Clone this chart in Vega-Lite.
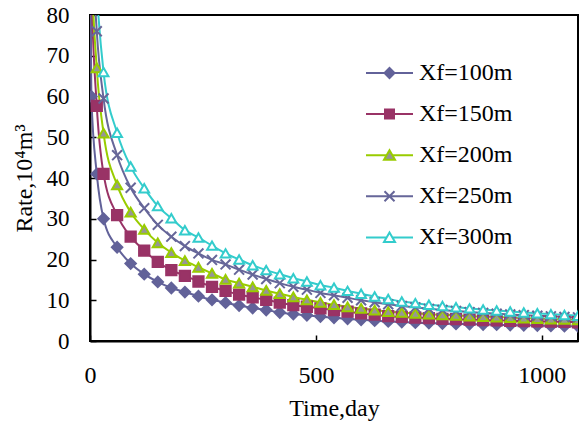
{
  "$schema": "https://vega.github.io/schema/vega-lite/v6.json",
  "width": 488,
  "height": 326,
  "autosize": {"type": "none"},
  "padding": {"left": 90, "top": 15, "right": 1, "bottom": 83},
  "background": "white",
  "config": {
    "font": "Liberation Serif",
    "view": {"stroke": "black", "strokeWidth": 2},
    "axis": {
      "grid": false,
      "domainColor": "black",
      "domainWidth": 2,
      "tickColor": "black",
      "tickWidth": 1.5,
      "labelColor": "black",
      "titleColor": "black",
      "labelFont": "Liberation Serif",
      "titleFont": "Liberation Serif",
      "labelFontSize": 23,
      "titleFontSize": 24,
      "titleFontWeight": "normal"
    }
  },
  "data": {
    "values": [
      {"s":"Xf=100m","t":1,"q":85},{"s":"Xf=100m","t":3,"q":60},{"s":"Xf=100m","t":15,"q":41},{"s":"Xf=100m","t":30,"q":30},{"s":"Xf=100m","t":60,"q":23},{"s":"Xf=100m","t":90,"q":19},{"s":"Xf=100m","t":120,"q":16.4},{"s":"Xf=100m","t":150,"q":14.5},{"s":"Xf=100m","t":180,"q":13},{"s":"Xf=100m","t":210,"q":12},{"s":"Xf=100m","t":240,"q":11},{"s":"Xf=100m","t":270,"q":10.1},{"s":"Xf=100m","t":300,"q":9.4},{"s":"Xf=100m","t":330,"q":8.7},{"s":"Xf=100m","t":360,"q":8.1},{"s":"Xf=100m","t":390,"q":7.6},{"s":"Xf=100m","t":420,"q":7.0},{"s":"Xf=100m","t":450,"q":6.6},{"s":"Xf=100m","t":480,"q":6.3},{"s":"Xf=100m","t":510,"q":6.0},{"s":"Xf=100m","t":540,"q":5.7},{"s":"Xf=100m","t":570,"q":5.45},{"s":"Xf=100m","t":600,"q":5.2},{"s":"Xf=100m","t":630,"q":5.0},{"s":"Xf=100m","t":660,"q":4.8},{"s":"Xf=100m","t":690,"q":4.65},{"s":"Xf=100m","t":720,"q":4.5},{"s":"Xf=100m","t":750,"q":4.4},{"s":"Xf=100m","t":780,"q":4.3},{"s":"Xf=100m","t":810,"q":4.2},{"s":"Xf=100m","t":840,"q":4.15},{"s":"Xf=100m","t":870,"q":4.05},{"s":"Xf=100m","t":900,"q":4.0},{"s":"Xf=100m","t":930,"q":3.9},{"s":"Xf=100m","t":960,"q":3.85},{"s":"Xf=100m","t":990,"q":3.8},{"s":"Xf=100m","t":1020,"q":3.7},{"s":"Xf=100m","t":1050,"q":3.65},{"s":"Xf=100m","t":1080,"q":3.6},
      {"s":"Xf=150m","t":1,"q":115},{"s":"Xf=150m","t":3,"q":88},{"s":"Xf=150m","t":15,"q":57.7},{"s":"Xf=150m","t":30,"q":41},{"s":"Xf=150m","t":60,"q":30.9},{"s":"Xf=150m","t":90,"q":25.6},{"s":"Xf=150m","t":120,"q":22.2},{"s":"Xf=150m","t":150,"q":19.4},{"s":"Xf=150m","t":180,"q":17.4},{"s":"Xf=150m","t":210,"q":16},{"s":"Xf=150m","t":240,"q":14.6},{"s":"Xf=150m","t":270,"q":13.3},{"s":"Xf=150m","t":300,"q":12.3},{"s":"Xf=150m","t":330,"q":11.4},{"s":"Xf=150m","t":360,"q":10.7},{"s":"Xf=150m","t":390,"q":10.1},{"s":"Xf=150m","t":420,"q":9.4},{"s":"Xf=150m","t":450,"q":8.8},{"s":"Xf=150m","t":480,"q":8.4},{"s":"Xf=150m","t":510,"q":8.0},{"s":"Xf=150m","t":540,"q":7.6},{"s":"Xf=150m","t":570,"q":7.2},{"s":"Xf=150m","t":600,"q":6.8},{"s":"Xf=150m","t":630,"q":6.45},{"s":"Xf=150m","t":660,"q":6.1},{"s":"Xf=150m","t":690,"q":5.9},{"s":"Xf=150m","t":720,"q":5.75},{"s":"Xf=150m","t":750,"q":5.6},{"s":"Xf=150m","t":780,"q":5.45},{"s":"Xf=150m","t":810,"q":5.35},{"s":"Xf=150m","t":840,"q":5.25},{"s":"Xf=150m","t":870,"q":5.15},{"s":"Xf=150m","t":900,"q":5.05},{"s":"Xf=150m","t":930,"q":4.95},{"s":"Xf=150m","t":960,"q":4.9},{"s":"Xf=150m","t":990,"q":4.8},{"s":"Xf=150m","t":1020,"q":4.75},{"s":"Xf=150m","t":1050,"q":4.7},{"s":"Xf=150m","t":1080,"q":4.6},
      {"s":"Xf=200m","t":1,"q":130},{"s":"Xf=200m","t":3,"q":95},{"s":"Xf=200m","t":15,"q":67},{"s":"Xf=200m","t":30,"q":51},{"s":"Xf=200m","t":60,"q":38.3},{"s":"Xf=200m","t":90,"q":31.6},{"s":"Xf=200m","t":120,"q":27.4},{"s":"Xf=200m","t":150,"q":24.1},{"s":"Xf=200m","t":180,"q":21.7},{"s":"Xf=200m","t":210,"q":19.7},{"s":"Xf=200m","t":240,"q":18.1},{"s":"Xf=200m","t":270,"q":16.6},{"s":"Xf=200m","t":300,"q":15.1},{"s":"Xf=200m","t":330,"q":14.2},{"s":"Xf=200m","t":360,"q":13.3},{"s":"Xf=200m","t":390,"q":12.4},{"s":"Xf=200m","t":420,"q":11.6},{"s":"Xf=200m","t":450,"q":10.8},{"s":"Xf=200m","t":480,"q":10.1},{"s":"Xf=200m","t":510,"q":9.5},{"s":"Xf=200m","t":540,"q":8.9},{"s":"Xf=200m","t":570,"q":8.4},{"s":"Xf=200m","t":600,"q":8.0},{"s":"Xf=200m","t":630,"q":7.6},{"s":"Xf=200m","t":660,"q":7.2},{"s":"Xf=200m","t":690,"q":7.0},{"s":"Xf=200m","t":720,"q":6.8},{"s":"Xf=200m","t":750,"q":6.6},{"s":"Xf=200m","t":780,"q":6.4},{"s":"Xf=200m","t":810,"q":6.3},{"s":"Xf=200m","t":840,"q":6.1},{"s":"Xf=200m","t":870,"q":6.0},{"s":"Xf=200m","t":900,"q":5.85},{"s":"Xf=200m","t":930,"q":5.75},{"s":"Xf=200m","t":960,"q":5.6},{"s":"Xf=200m","t":990,"q":5.5},{"s":"Xf=200m","t":1020,"q":5.4},{"s":"Xf=200m","t":1050,"q":5.3},{"s":"Xf=200m","t":1080,"q":5.2},
      {"s":"Xf=250m","t":1,"q":145},{"s":"Xf=250m","t":3,"q":105},{"s":"Xf=250m","t":15,"q":76},{"s":"Xf=250m","t":30,"q":59.5},{"s":"Xf=250m","t":60,"q":45.6},{"s":"Xf=250m","t":90,"q":37.6},{"s":"Xf=250m","t":120,"q":32.6},{"s":"Xf=250m","t":150,"q":28.5},{"s":"Xf=250m","t":180,"q":25.6},{"s":"Xf=250m","t":210,"q":23.3},{"s":"Xf=250m","t":240,"q":21.5},{"s":"Xf=250m","t":270,"q":19.9},{"s":"Xf=250m","t":300,"q":18.8},{"s":"Xf=250m","t":330,"q":17.5},{"s":"Xf=250m","t":360,"q":16.3},{"s":"Xf=250m","t":390,"q":15.2},{"s":"Xf=250m","t":420,"q":14.2},{"s":"Xf=250m","t":450,"q":13.3},{"s":"Xf=250m","t":480,"q":12.6},{"s":"Xf=250m","t":510,"q":11.8},{"s":"Xf=250m","t":540,"q":11.2},{"s":"Xf=250m","t":570,"q":10.6},{"s":"Xf=250m","t":600,"q":10.0},{"s":"Xf=250m","t":630,"q":9.5},{"s":"Xf=250m","t":660,"q":9.0},{"s":"Xf=250m","t":690,"q":8.6},{"s":"Xf=250m","t":720,"q":8.25},{"s":"Xf=250m","t":750,"q":7.9},{"s":"Xf=250m","t":780,"q":7.6},{"s":"Xf=250m","t":810,"q":7.35},{"s":"Xf=250m","t":840,"q":7.1},{"s":"Xf=250m","t":870,"q":6.9},{"s":"Xf=250m","t":900,"q":6.7},{"s":"Xf=250m","t":930,"q":6.5},{"s":"Xf=250m","t":960,"q":6.35},{"s":"Xf=250m","t":990,"q":6.2},{"s":"Xf=250m","t":1020,"q":6.05},{"s":"Xf=250m","t":1050,"q":5.9},{"s":"Xf=250m","t":1080,"q":5.8},
      {"s":"Xf=300m","t":1,"q":160},{"s":"Xf=300m","t":3,"q":115},{"s":"Xf=300m","t":15,"q":86},{"s":"Xf=300m","t":30,"q":66},{"s":"Xf=300m","t":60,"q":51.1},{"s":"Xf=300m","t":90,"q":42.8},{"s":"Xf=300m","t":120,"q":37.5},{"s":"Xf=300m","t":150,"q":33.1},{"s":"Xf=300m","t":180,"q":30.1},{"s":"Xf=300m","t":210,"q":27.2},{"s":"Xf=300m","t":240,"q":25.4},{"s":"Xf=300m","t":270,"q":23.4},{"s":"Xf=300m","t":300,"q":21.5},{"s":"Xf=300m","t":330,"q":20.0},{"s":"Xf=300m","t":360,"q":18.6},{"s":"Xf=300m","t":390,"q":17.4},{"s":"Xf=300m","t":420,"q":16.4},{"s":"Xf=300m","t":450,"q":15.4},{"s":"Xf=300m","t":480,"q":14.6},{"s":"Xf=300m","t":510,"q":13.7},{"s":"Xf=300m","t":540,"q":13.1},{"s":"Xf=300m","t":570,"q":12.3},{"s":"Xf=300m","t":600,"q":11.6},{"s":"Xf=300m","t":630,"q":10.9},{"s":"Xf=300m","t":660,"q":10.3},{"s":"Xf=300m","t":690,"q":9.7},{"s":"Xf=300m","t":720,"q":9.3},{"s":"Xf=300m","t":750,"q":8.9},{"s":"Xf=300m","t":780,"q":8.6},{"s":"Xf=300m","t":810,"q":8.3},{"s":"Xf=300m","t":840,"q":8.0},{"s":"Xf=300m","t":870,"q":7.75},{"s":"Xf=300m","t":900,"q":7.5},{"s":"Xf=300m","t":930,"q":7.25},{"s":"Xf=300m","t":960,"q":7.0},{"s":"Xf=300m","t":990,"q":6.8},{"s":"Xf=300m","t":1020,"q":6.6},{"s":"Xf=300m","t":1050,"q":6.4},{"s":"Xf=300m","t":1080,"q":6.2}
    ]
  },
  "encoding": {
    "x": {
      "field": "t", "type": "quantitative",
      "scale": {"domain": [0, 1080], "nice": false, "zero": false},
      "axis": {"values": [0, 500, 1000], "format": "d", "tickSize": -6, "labelPadding": 28, "labelFontSize": 24, "title": "Time,day", "titlePadding": 9, "labelFlush": false, "labelFont": "Liberation Serif", "titleFont": "Liberation Serif"}
    },
    "y": {
      "field": "q", "type": "quantitative",
      "scale": {"domain": [0, 80], "nice": false},
      "axis": {"values": [0, 10, 20, 30, 40, 50, 60, 70, 80], "format": "d", "tickSize": -6, "labelPadding": 27, "title": "Rate,10⁴m³", "titlePadding": 10, "labelFlush": false, "labelFont": "Liberation Serif", "titleFont": "Liberation Serif"}
    }
  },
  "layer": [
    {
      "mark": {"type": "line", "interpolate": "monotone", "strokeWidth": 2, "clip": true},
      "encoding": {
        "color": {
          "field": "s", "type": "nominal",
          "scale": {"domain": ["Xf=100m", "Xf=150m", "Xf=200m", "Xf=250m", "Xf=300m"], "range": ["#626299", "#993366", "#99cc00", "#666699", "#33cccc"]},
          "legend": null
        }
      }
    },
    {
      "mark": {"type": "point", "filled": true, "strokeWidth": 2, "opacity": 1, "clip": true},
      "encoding": {
        "shape": {
          "field": "s", "type": "nominal",
          "scale": {"domain": ["Xf=100m", "Xf=150m", "Xf=200m", "Xf=250m", "Xf=300m"], "range": ["diamond", "square", "triangle-up", "M-1,-1L1,1M-1,1L1,-1", "triangle-up"]},
          "legend": null
        },
        "fill": {
          "field": "s", "type": "nominal",
          "scale": {"domain": ["Xf=100m", "Xf=150m", "Xf=200m", "Xf=250m", "Xf=300m"], "range": ["#626299", "#993366", "#969696", "#666699", "#ffffff"]},
          "legend": null
        },
        "stroke": {
          "field": "s", "type": "nominal",
          "scale": {"domain": ["Xf=100m", "Xf=150m", "Xf=200m", "Xf=250m", "Xf=300m"], "range": ["#626299", "#993366", "#99cc00", "#666699", "#33cccc"]},
          "legend": null
        },
        "size": {
          "field": "s", "type": "nominal",
          "scale": {"domain": ["Xf=100m", "Xf=150m", "Xf=200m", "Xf=250m", "Xf=300m"], "range": [110, 95, 130, 110, 140]},
          "legend": null
        }
      }
    },
    {
      "transform": [{"filter": "datum.q < 0"}],
      "mark": {"type": "point", "filled": true, "strokeWidth": 2, "opacity": 1},
      "encoding": {
        "shape": {
          "field": "s", "type": "nominal",
          "scale": {"domain": ["Xf=100m", "Xf=150m", "Xf=200m", "Xf=250m", "Xf=300m"], "range": ["M-4.7,0L4.7,0M0,-1L1,0L0,1L-1,0Z", "M-4.7,0L4.7,0M-0.9,-0.9L0.9,-0.9L0.9,0.9L-0.9,0.9Z", "M-4.7,0L-0.7,0M0.7,0L4.7,0M0,-1L-1.1,0.9L1.1,0.9Z", "M-4.7,0L4.7,0M-1,-1L1,1M-1,1L1,-1", "M-4.7,0L-0.7,0M0.7,0L4.7,0M0,-1L-1.1,0.9L1.1,0.9Z"]},
          "legend": {"orient": "none", "legendX": 287.5, "legendY": 46, "title": null, "padding": 0, "rowPadding": 17.1, "symbolSize": 100, "symbolStrokeWidth": 2, "labelColor": "black", "labelFont": "Liberation Serif", "labelFontSize": 24, "labelOffset": 17.5, "labelLimit": 300}
        },
        "fill": {
          "field": "s", "type": "nominal",
          "scale": {"domain": ["Xf=100m", "Xf=150m", "Xf=200m", "Xf=250m", "Xf=300m"], "range": ["#626299", "#993366", "#969696", "#666699", "#ffffff"]},
          "legend": {"orient": "none", "legendX": 287.5, "legendY": 46, "title": null, "padding": 0, "rowPadding": 17.1, "symbolSize": 100, "symbolStrokeWidth": 2, "labelColor": "black", "labelFont": "Liberation Serif", "labelFontSize": 24, "labelOffset": 17.5, "labelLimit": 300}
        },
        "stroke": {
          "field": "s", "type": "nominal",
          "scale": {"domain": ["Xf=100m", "Xf=150m", "Xf=200m", "Xf=250m", "Xf=300m"], "range": ["#626299", "#993366", "#99cc00", "#666699", "#33cccc"]},
          "legend": {"orient": "none", "legendX": 287.5, "legendY": 46, "title": null, "padding": 0, "rowPadding": 17.1, "symbolSize": 100, "symbolStrokeWidth": 2, "labelColor": "black", "labelFont": "Liberation Serif", "labelFontSize": 24, "labelOffset": 17.5, "labelLimit": 300}
        }
      }
    }
  ],
  "resolve": {"scale": {"shape": "independent", "fill": "independent", "stroke": "independent"}}
}
